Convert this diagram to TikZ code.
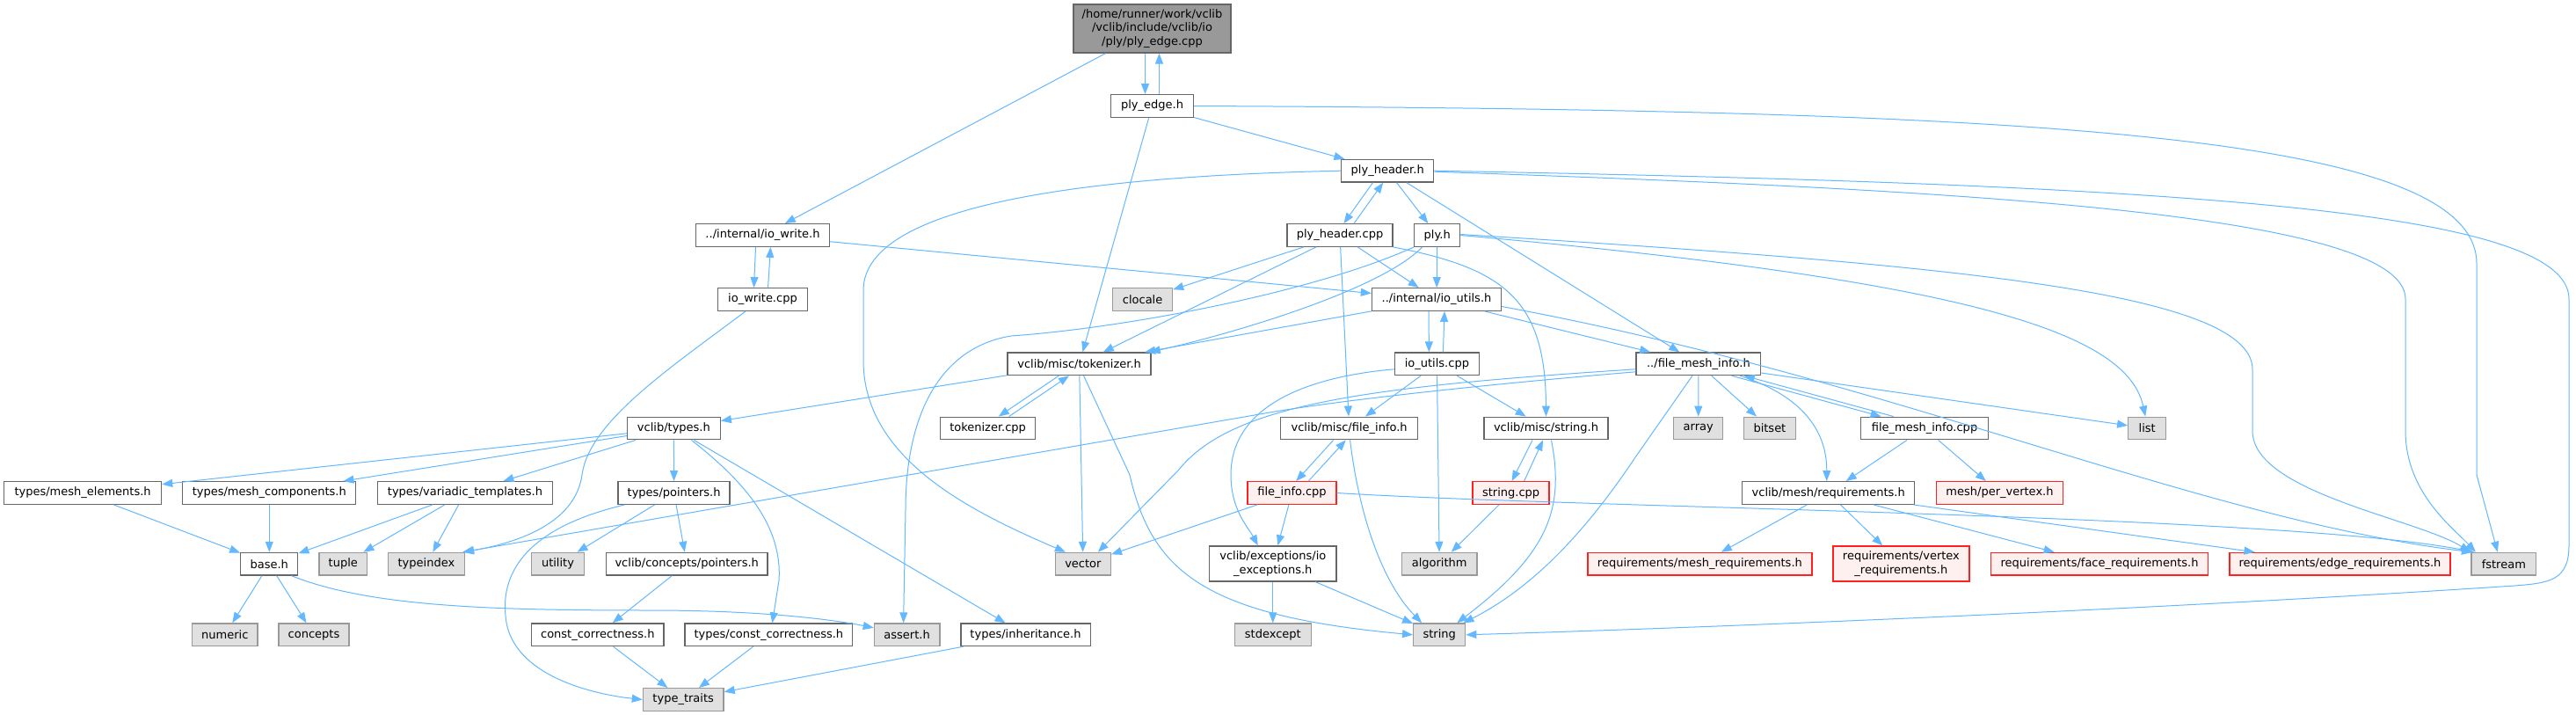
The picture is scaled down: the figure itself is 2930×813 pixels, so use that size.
\documentclass[tikz,border=0pt]{standalone}
\usepackage{fontspec}
\setmainfont{DejaVu Sans}
\usetikzlibrary{arrows.meta}
\definecolor{edgec}{HTML}{63B8FF}
\definecolor{nborder}{HTML}{666666}
\definecolor{gborder}{HTML}{999999}
\definecolor{gfill}{HTML}{E0E0E0}
\definecolor{rfill}{HTML}{FFF0F0}
\definecolor{rootfill}{HTML}{999999}
\definecolor{rborder}{HTML}{FF2020}
\begin{document}
\begin{tikzpicture}[x=1pt,y=-1pt,
  every node/.style={font=\fontsize{13}{15.3}\selectfont, inner sep=0pt, minimum height=25.6pt, align=center, line width=1.3pt},
  wbox/.style={draw=nborder, fill=white},
  gbox/.style={draw=gborder, fill=gfill},
  rbox/.style={draw=rborder, fill=rfill},
  rootbox/.style={draw=nborder, fill=rootfill},
  e/.style={draw=edgec, line width=1pt, -{Triangle[length=12pt,width=9pt]}},
]
\useasboundingbox (0,0) rectangle (2930,813);
\fill[white] (0,0) rectangle (2930,813);

% nodes
\node[rootbox, minimum width=179pt, minimum height=55pt] (root) at (1310.5,32.5) {/home/runner/work/vclib\\/vclib/include/vclib/io\\/ply/ply\_edge.cpp};
\node[wbox, minimum width=94pt] (plyedge) at (1310.5,120.5) {ply\_edge.h};
\node[wbox, minimum width=152pt] (iowrite) at (867.5,267.5) {../internal/io\_write.h};
\node[wbox, minimum width=105pt] (plyheader) at (1578.2,194.2) {ply\_header.h};
\node[wbox, minimum width=120pt] (plyheadercpp) at (1524,267.5) {ply\_header.cpp};
\node[wbox, minimum width=52pt] (plyh) at (1634.7,267.5) {ply.h};
\node[wbox, minimum width=101.5pt] (iowritecpp) at (867.5,340.5) {io\_write.cpp};
\node[gbox, minimum width=68pt] (clocale) at (1299.6,340.5) {clocale};
\node[wbox, minimum width=147pt] (ioutils) at (1634,340.5) {../internal/io\_utils.h};
\node[wbox, minimum width=163pt] (tok) at (1227.6,413.8) {vclib/misc/tokenizer.h};
\node[wbox, minimum width=96pt] (ioutilscpp) at (1634.4,413.8) {io\_utils.cpp};
\node[wbox, minimum width=141.6pt] (fmi) at (1931.9,413.8) {../file\_mesh\_info.h};
\node[wbox, minimum width=107.6pt] (tokcpp) at (1123.6,487) {tokenizer.cpp};
\node[wbox, minimum width=105.7pt] (types) at (766.4,487) {vclib/types.h};
\node[wbox, minimum width=155.6pt] (fileinfo) at (1534.6,487) {vclib/misc/file\_info.h};
\node[wbox, minimum width=141pt] (strh) at (1758.5,487) {vclib/misc/string.h};
\node[gbox, minimum width=56pt] (array) at (1931.7,487) {array};
\node[gbox, minimum width=59pt] (bitset) at (2012.9,487) {bitset};
\node[wbox, minimum width=144.4pt] (fmicpp) at (2189,487) {file\_mesh\_info.cpp};
\node[gbox, minimum width=43pt] (list) at (2442.2,487) {list};

\node[wbox, minimum width=179pt] (meshel) at (94.1,560.5) {types/mesh\_elements.h};
\node[wbox, minimum width=197pt] (meshcomp) at (306.3,560.5) {types/mesh\_components.h};
\node[wbox, minimum width=199pt] (variadic) at (529,560.5) {types/variadic\_templates.h};
\node[wbox, minimum width=127pt] (pointers) at (766.6,560.5) {types/pointers.h};
\node[rbox, minimum width=101pt] (fileinfocpp) at (1469.5,560.5) {file\_info.cpp};
\node[rbox, minimum width=87pt] (strcpp) at (1718.6,560.5) {string.cpp};
\node[wbox, minimum width=196pt] (req) at (2079.7,560.5) {vclib/mesh/requirements.h};
\node[rbox, minimum width=144.4pt] (pervertex) at (2274.5,560.5) {mesh/per\_vertex.h};

\node[wbox, minimum width=65pt] (base) at (306.3,641.2) {base.h};
\node[gbox, minimum width=54.7pt] (tuple) at (390.3,641.2) {tuple};
\node[gbox, minimum width=87.3pt] (typeindex) at (484.9,641.2) {typeindex};
\node[gbox, minimum width=60pt] (utility) at (634.5,641.2) {utility};
\node[wbox, minimum width=183.5pt] (cpointers) at (781.2,641.2) {vclib/concepts/pointers.h};
\node[gbox, minimum width=62.8pt] (vector) at (1231.9,641.2) {vector};
\node[wbox, minimum width=144.4pt, minimum height=40pt] (ioexc) at (1447.8,641) {vclib/exceptions/io\\\_exceptions.h};
\node[gbox, minimum width=85.4pt] (algorithm) at (1637.2,641.2) {algorithm};
\node[rbox, minimum width=255pt] (meshreq) at (1933.4,641.2) {requirements/mesh\_requirements.h};
\node[rbox, minimum width=155pt, minimum height=40pt] (vertreq) at (2162.4,641) {requirements/vertex\\\_requirements.h};
\node[rbox, minimum width=246.8pt] (facereq) at (2388,641.2) {requirements/face\_requirements.h};
\node[rbox, minimum width=251pt] (edgereq) at (2661.5,641.2) {requirements/edge\_requirements.h};
\node[gbox, minimum width=73.7pt] (fstream) at (2847.8,641.2) {fstream};

\node[gbox, minimum width=74.6pt] (numeric) at (255.8,721.8) {numeric};
\node[gbox, minimum width=79.8pt] (concepts) at (357,721.8) {concepts};
\node[wbox, minimum width=150.5pt] (constcorr) at (679.8,721.8) {const\_correctness.h};
\node[wbox, minimum width=190.6pt] (tconstcorr) at (874.4,721.8) {types/const\_correctness.h};
\node[gbox, minimum width=74.5pt] (assert) at (1031.6,721.8) {assert.h};
\node[wbox, minimum width=147.3pt] (inherit) at (1166.5,721.8) {types/inheritance.h};
\node[gbox, minimum width=86.7pt] (stdexcept) at (1447.8,721.8) {stdexcept};
\node[gbox, minimum width=59pt] (string) at (1637.2,721.8) {string};
\node[gbox, minimum width=91.6pt] (typetraits) at (777.2,795.5) {type\_traits};

% edges
\draw[e] ([xshift=-8pt]root.south) -- ([xshift=-8pt]plyedge.north);
\draw[e] ([xshift=8pt]plyedge.north) -- ([xshift=8pt]root.south);
\draw[e] (root) -- (iowrite);
\draw[e] (plyedge) -- (plyheader);
\draw[e] (plyedge) -- (tok);
\draw[e] (plyedge.east) .. controls (2300,125) and (2817,150) .. (2817,300) -- (2817,540) -- ([xshift=-7pt]fstream.north);

\draw[e] ([xshift=-16.7pt]plyheader.south) -- ([xshift=4.4pt]plyheadercpp.north);
\draw[e] ([xshift=16pt]plyheadercpp.north) -- ([xshift=-5pt]plyheader.south);
\draw[e] (plyheader) -- (plyh);
\draw[e] (plyheader) -- (fmi);
\draw[e] (plyheader.west) .. controls (1250,200) and (982,230) .. (982,330) -- (982,410) .. controls (982,520) and (1100,580) .. ([xshift=-20pt]vector.north);
\draw[e] ([yshift=-1pt]plyheader.east) .. controls (2200,215) and (2736,240) .. (2736,340) -- (2736,490) .. controls (2736,560) and (2790,600) .. ([xshift=-32pt]fstream.north);
\draw[e] (plyheader.east) .. controls (2500,210) and (2922,240) .. (2922,340) -- (2922,620) .. controls (2922,660) and (2900,663) .. (2860,666) .. controls (2500,690) and (2000,712) .. (string.east);

\draw[e] (plyheadercpp) -- (clocale);
\draw[e] (plyheadercpp) -- (tok);
\draw[e] (plyheadercpp) -- (ioutils);
\draw[e] (plyheadercpp) -- (fileinfo);
\draw[e] (plyheadercpp.south east) .. controls (1710,305) and (1758,340) .. (strh.north);

\draw[e] (plyh) -- (ioutils);
\draw[e] ([xshift=-17pt]plyh.south) .. controls (1570,330) and (1400,380) .. ([xshift=-2pt]tok.north east);
\draw[e] (plyh.south west) .. controls (1500,330) and (1290,372) .. (1150,382) .. controls (1070,395) and (1030,470) .. (1030,580) -- ([xshift=-4pt]assert.north);
\draw[e] (plyh.east) .. controls (2250,320) and (2420,380) .. ([xshift=-2pt]list.north);
\draw[e] ([yshift=1pt]plyh.east) .. controls (2200,300) and (2562,330) .. (2562,420) -- (2562,490) .. controls (2562,560) and (2750,590) .. ([xshift=-38pt]fstream.north);

\draw[e] ([xshift=-8pt]iowrite.south) -- ([xshift=-10pt]iowritecpp.north);
\draw[e] ([xshift=6pt]iowritecpp.north) -- ([xshift=9pt]iowrite.south);
\draw[e] (iowrite) -- (ioutils);
\draw[e] ([xshift=-19.5pt]iowritecpp.south) .. controls (760,420) and (670,480) .. (662,540) .. controls (655,590) and (600,615) .. ([xshift=-2pt]typeindex.north east);

\draw[e] ([xshift=-9pt]ioutils.south) -- ([xshift=-9pt]ioutilscpp.north);
\draw[e] ([xshift=7pt]ioutilscpp.north) -- ([xshift=9pt]ioutils.south);
\draw[e] (ioutils) -- (fmi);
\draw[e] ([yshift=-8pt]ioutils.east) .. controls (2150,430) and (2500,590) .. ([xshift=-36pt]fstream.north);
\draw[e] (ioutils) -- (tok);

\draw[e] (ioutilscpp) -- (fileinfo);
\draw[e] (ioutilscpp) -- (strh);
\draw[e] (ioutilscpp) -- (algorithm);
\draw[e] ([yshift=-6pt]ioutilscpp.west) .. controls (1470,430) and (1400,470) .. (1400,540) .. controls (1400,580) and (1420,600) .. ([xshift=-17pt]ioexc.north);

\draw[e] ([xshift=-7pt]fmi.south) -- (1860,520) .. controls (1800,610) and (1740,670) .. ([xshift=-3pt]string.north east);
\draw[e] (fmi) -- (array);
\draw[e] (fmi) -- (bitset);
\draw[e] ([xshift=37.8pt]fmi.south) -- ([xshift=-49.4pt]fmicpp.north);
\draw[e] ([xshift=-35.3pt]fmicpp.north) -- ([xshift=51.9pt]fmi.south);
\draw[e] ([xshift=47pt]fmi.south) .. controls (2050,450) and (2078,490) .. ([xshift=-2pt]req.north);
\draw[e] (fmi) -- (list);
\draw[e] ([yshift=-6pt]fmi.west) .. controls (1550,440) and (1400,460) .. (1340,535) -- ([xshift=17pt]vector.north);
\draw[e] ([yshift=-9pt]fmi.west) .. controls (1750,432) and (1560,450) .. (1450,468) -- ([xshift=-3pt]typeindex.north east);

\draw[e] (fmicpp) -- (req);
\draw[e] (fmicpp) -- (pervertex);

\draw[e] ([xshift=-18pt]fileinfo.south) -- ([xshift=4.7pt]fileinfocpp.north);
\draw[e] ([xshift=18.8pt]fileinfocpp.north) -- ([xshift=-3.8pt]fileinfo.south);
\draw[e] ([xshift=1pt]fileinfo.south) .. controls (1545,580) and (1570,660) .. ([xshift=-20pt]string.north);
\draw[e] (fileinfocpp) -- (vector);
\draw[e] (fileinfocpp) -- (ioexc);
\draw[e] (fileinfocpp.east) .. controls (1800,578) and (2600,585) .. ([xshift=-34pt]fstream.north);

\draw[e] ([xshift=-15.5pt]strh.south) -- ([xshift=1pt]strcpp.north);
\draw[e] ([xshift=15pt]strcpp.north) -- ([xshift=-3.5pt]strh.south);
\draw[e] ([xshift=6pt]strh.south) .. controls (1780,580) and (1760,630) .. ([xshift=20pt]string.north);
\draw[e] (strcpp) -- (algorithm);
\draw[e] (ioexc) -- (stdexcept);
\draw[e] (ioexc) -- (string);

\draw[e] ([xshift=-23.3pt]tok.south) -- ([xshift=12.2pt]tokcpp.north);
\draw[e] ([xshift=24pt]tokcpp.north) -- ([xshift=-11.6pt]tok.south);
\draw[e] (tok) -- (types);
\draw[e] (tok) -- (vector);
\draw[e] ([xshift=5pt]tok.south) -- (1285,540) .. controls (1310,650) and (1370,700) .. (string.west);

\draw[e] (types) -- (meshel);
\draw[e] (types) -- (meshcomp);
\draw[e] (types) -- (variadic);
\draw[e] (types) -- (pointers);
\draw[e] ([xshift=20pt]types.south) .. controls (850,550) and (890,600) .. (886,660) -- ([xshift=4pt]tconstcorr.north);
\draw[e] (types) -- (inherit);

\draw[e] (meshel) -- (base);
\draw[e] (meshcomp) -- (base);
\draw[e] (variadic) -- (base);
\draw[e] (variadic) -- (tuple);
\draw[e] (variadic) -- (typeindex);
\draw[e] (pointers) -- (utility);
\draw[e] (pointers) -- (cpointers);
\draw[e] ([xshift=-56pt]pointers.south) .. controls (600,600) and (570,650) .. (575,700) .. controls (580,770) and (680,790) .. (typetraits.west);
\draw[e] (cpointers) -- (constcorr);
\draw[e] (constcorr) -- (typetraits);
\draw[e] (tconstcorr) -- (typetraits);
\draw[e] (inherit) -- (typetraits);
\draw[e] (base) -- (numeric);
\draw[e] (base) -- (concepts);
\draw[e] ([xshift=-8pt]base.south east) .. controls (420,690) and (560,694) .. (740,694) .. controls (870,694) and (950,705) .. ([yshift=8pt]assert.west);

\draw[e] (req) -- (meshreq);
\draw[e] (req) -- (vertreq);
\draw[e] (req) -- (facereq);
\draw[e] (req) -- (edgereq);
\end{tikzpicture}
\end{document}
